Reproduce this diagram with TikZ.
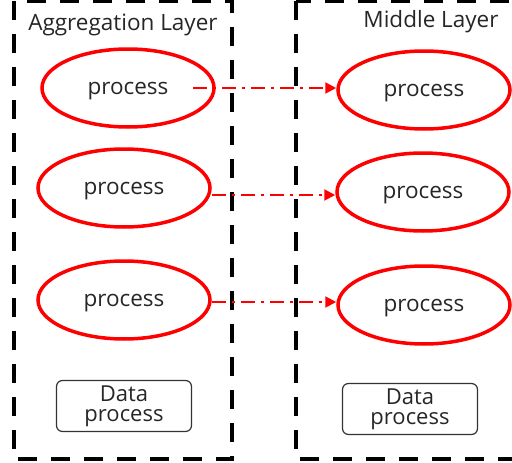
\documentclass[tikz,border=0pt]{standalone}
\usepackage{fontspec}
\setmainfont{Open Sans}
\usetikzlibrary{arrows.meta,shapes.geometric}
\begin{document}
\begin{tikzpicture}[x=1pt,y=-1pt,
  layerbox/.style={draw=black,line width=4pt,dash pattern=on 19pt off 14pt},
  proc/.style={ellipse,draw=red,line width=3.5pt,minimum width=172pt,minimum height=78pt,inner sep=0pt,text depth=0pt,font=\fontsize{22.5}{24}\selectfont,text=black!85},
  dbox/.style={draw=black!80,rounded corners=6pt,line width=1.2pt,minimum width=135pt,minimum height=51pt,inner sep=0pt,align=center,font=\fontsize{22}{20}\selectfont,text=black!85},
  flow/.style={draw=red,line width=2pt,dash pattern=on 14pt off 6pt on 3pt off 6pt,-{Triangle[length=11pt,width=11pt]}},
  title/.style={font=\fontsize{22.5}{24}\selectfont,text=black!85,inner sep=0pt}]
\useasboundingbox (0,0) rectangle (512,463);
\begin{scope}
\clip (0,0) rectangle (512,463);
\draw[layerbox] (14,1) rectangle (232,459);
\draw[layerbox] (296,1) rectangle (522,459);
\end{scope}
\node[title] (t1) at (123,25) {Aggregation Layer};
\node[title] (t2) at (431,22) {Middle Layer};
\node[proc] (a1) at (128,88) {process};
\node[proc] (a2) at (124,188) {process};
\node[proc] (a3) at (124,300) {process};
\node[proc] (b1) at (424,90) {process};
\node[proc] (b2) at (423,192) {process};
\node[proc] (b3) at (424,305) {process};
\node[dbox] (d1) at (124,406) {Data\\process};
\node[dbox] (d2) at (410,409) {Data\\process};
\coordinate (s1) at (193,88);
\draw[flow] (s1) -- (b1.west |- s1);
\draw[flow] (a2.east |- 0,195) -- (b2.west |- 0,195);
\draw[flow] (a3.east |- 0,302) -- (b3.west |- 0,302);
\end{tikzpicture}
\end{document}
